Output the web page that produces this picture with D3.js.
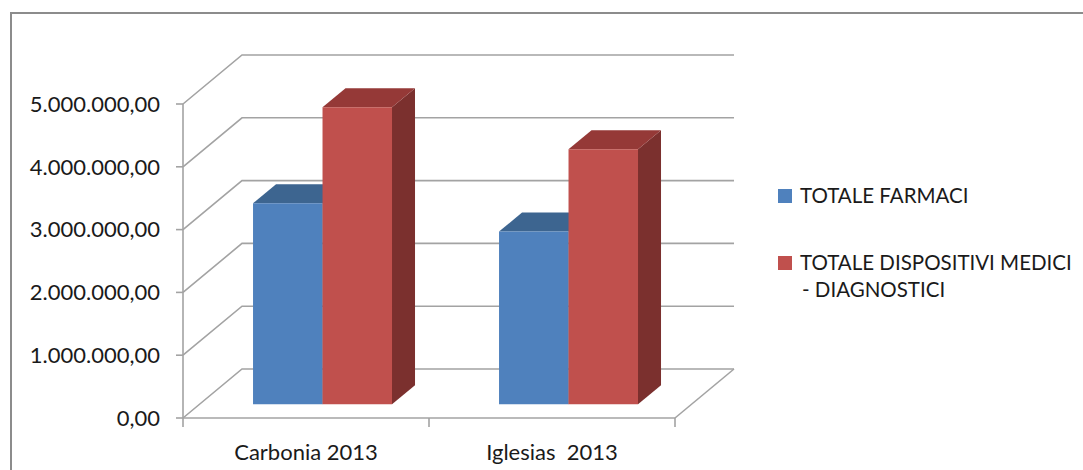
<!DOCTYPE html>
<html>
<head>
<meta charset="utf-8">
<script src="https://cdn.jsdelivr.net/npm/d3@7"></script>
<style>
  body { margin: 0; background: #fff; }
  text { font-family: Lato, "Open Sans", sans-serif; fill: #1a1a1a; }
</style>
</head>
<body>
<div id="chart"></div>
<script>
console.log("chart loaded")

// data
var categories = ["Carbonia 2013", "Iglesias  2013"];
var seriesNames = ["TOTALE FARMACI", "TOTALE DISPOSITIVI MEDICI - DIAGNOSTICI"];
var farmaci = [3200000, 2750000];
var dispositivi = [4730000, 4060000];
var yTicks = [0, 1000000, 2000000, 3000000, 4000000, 5000000];

var colors = [
    {front: "#4f81bd", top: "#3d6590", side: "#2f4f73"},
    {front: "#c0504d", top: "#953937", side: "#7b302e"}
];

var width = 1083, height = 470;
var DX = 59, DY = 49;   // depth of the 3d box
var zFront = 0.28, zBack = 0.67;

var svg = d3.select("#chart").append("svg")
    .attr("width", width)
    .attr("height", height);

// outer frame
svg.append("rect")
    .attr("x", 11).attr("y", 13)
    .attr("width", 1100).attr("height", 500)
    .attr("fill", "none")
    .attr("stroke", "#8c8c8c")
    .attr("stroke-width", 2);

var x0 = d3.scaleBand().domain(categories).range([183, 675]).padding(0);
var x1 = d3.scaleBand().domain([0, 1]).range([0, x0.bandwidth()]).paddingInner(0).paddingOuter(0.77);
var y = d3.scaleLinear().domain([0, 5000000]).range([418, 104]);

var it = d3.formatLocale({decimal: ",", thousands: ".", grouping: [3], currency: ["", "€"]});
var fmt = it.format(",.2f");

function px(xv, z) { return xv + z * DX; }
function py(yv, z) { return yv - z * DY; }

var gridColor = "#a3a3a3";

// gridlines: side wall diagonal + back wall line
yTicks.forEach(t => {
    var yy = y(t);
    svg.append("polyline")
        .attr("points", [[183, yy], [px(183, 1), py(yy, 1)], [px(675, 1), py(yy, 1)]].join(" "))
        .attr("fill", "none")
        .attr("stroke", gridColor)
        .attr("stroke-width", 1.6);
});

// floor right edge
svg.append("line")
    .attr("x1", 675).attr("y1", y(0))
    .attr("x2", px(675, 1)).attr("y2", py(y(0), 1))
    .attr("stroke", gridColor).attr("stroke-width", 1.6);

// front y axis
svg.append("line")
    .attr("x1", 183).attr("y1", y(5000000))
    .attr("x2", 183).attr("y2", y(0))
    .attr("stroke", gridColor).attr("stroke-width", 1.6);

yTicks.forEach(t => {
    svg.append("line")
        .attr("x1", 176).attr("x2", 183)
        .attr("y1", y(t)).attr("y2", y(t))
        .attr("stroke", gridColor).attr("stroke-width", 1.6);
    svg.append("text")
        .attr("x", 160).attr("y", y(t))
        .attr("dy", "0.35em")
        .attr("text-anchor", "end")
        .style("font-size", "22px")
        .text(fmt(t));
});

// x axis
svg.append("line")
    .attr("x1", 183).attr("x2", 675)
    .attr("y1", y(0)).attr("y2", y(0))
    .attr("stroke", gridColor).attr("stroke-width", 1.6);

var xTickPos = categories.map(c => x0(c)).concat([675]);
xTickPos.forEach(xt => {
    svg.append("line")
        .attr("x1", xt).attr("x2", xt)
        .attr("y1", y(0)).attr("y2", y(0) + 9)
        .attr("stroke", gridColor).attr("stroke-width", 1.6);
});

categories.forEach(c => {
    svg.append("text")
        .attr("x", x0(c) + x0.bandwidth() / 2)
        .attr("y", 460)
        .attr("text-anchor", "middle")
        .style("font-size", "22px")
        .style("white-space", "pre")
        .text(c);
});

// 3d bars
function DrawBar(xl, xr, value, col) {
    var yb = y(0), yt = y(value);
    var front = [[px(xl, zFront), py(yt, zFront)], [px(xr, zFront), py(yt, zFront)],
                 [px(xr, zFront), py(yb, zFront)], [px(xl, zFront), py(yb, zFront)]];
    var top = [[px(xl, zFront), py(yt, zFront)], [px(xl, zBack), py(yt, zBack)],
               [px(xr, zBack), py(yt, zBack)], [px(xr, zFront), py(yt, zFront)]];
    var side = [[px(xr, zFront), py(yt, zFront)], [px(xr, zBack), py(yt, zBack)],
                [px(xr, zBack), py(yb, zBack)], [px(xr, zFront), py(yb, zFront)]];
    svg.append("polygon").attr("points", side.join(" ")).attr("fill", col.side);
    svg.append("polygon").attr("points", top.join(" ")).attr("fill", col.top);
    svg.append("polygon").attr("points", front.join(" ")).attr("fill", col.front);
}

categories.forEach((c, i) => {
    var vals = [farmaci[i], dispositivi[i]];
    vals.forEach((v, s) => {
        var xl = x0(c) + x1(s);
        DrawBar(xl, xl + x1.bandwidth(), v, colors[s]);
    });
});

// legend
var legend = svg.append("g");
legend.append("rect").attr("x", 778).attr("y", 189).attr("width", 14).attr("height", 14).attr("fill", colors[0].front);
legend.append("text").attr("x", 800).attr("y", 196).attr("dy", "0.35em").style("font-size", "20.5px").text(seriesNames[0]);

legend.append("rect").attr("x", 778).attr("y", 256).attr("width", 14).attr("height", 14).attr("fill", colors[1].front);
legend.append("text").attr("x", 800).attr("y", 263).attr("dy", "0.35em").style("font-size", "20.5px").text("TOTALE DISPOSITIVI MEDICI");
legend.append("text").attr("x", 802).attr("y", 290).attr("dy", "0.35em").style("font-size", "20.5px").text("- DIAGNOSTICI");
</script>
</body>
</html>
